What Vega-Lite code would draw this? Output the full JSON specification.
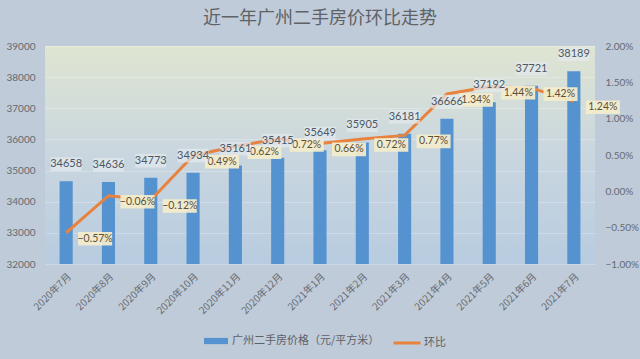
{
  "$schema": "https://vega.github.io/schema/vega-lite/v6.json",
  "width": 550,
  "height": 218,
  "autosize": {"type": "none"},
  "padding": {"left": 45, "top": 46, "right": 45, "bottom": 95},
  "background": "#bfcbd8",
  "view": {
    "stroke": null,
    "fill": {"gradient": "linear", "x1": 0, "y1": 0, "x2": 0, "y2": 1, "stops": [{"offset": 0, "color": "#dfe5d2"}, {"offset": 0.5, "color": "#c9d6df"}, {"offset": 1, "color": "#b8cce0"}]}
  },
  "title": {
    "text": "近一年广州二手房价环比走势",
    "font": "Noto Sans CJK SC",
    "fontSize": 18,
    "fontWeight": "normal",
    "color": "#5f6266",
    "anchor": "middle",
    "offset": 13
  },
  "config": {
    "font": "Lato",
    "axis": {"labelColor": "#666a70", "labelFontSize": 10, "domain": false, "ticks": false, "title": null}
  },
  "data": {
    "values": [
      {"month": "2020年7月", "price": 34658, "pct": -0.0057},
      {"month": "2020年8月", "price": 34636, "pct": -0.0006},
      {"month": "2020年9月", "price": 34773, "pct": -0.0012},
      {"month": "2020年10月", "price": 34934, "pct": 0.0049},
      {"month": "2020年11月", "price": 35161, "pct": 0.0062},
      {"month": "2020年12月", "price": 35415, "pct": 0.0072},
      {"month": "2021年1月", "price": 35649, "pct": 0.0066},
      {"month": "2021年2月", "price": 35905, "pct": 0.0072},
      {"month": "2021年3月", "price": 36181, "pct": 0.0077},
      {"month": "2021年4月", "price": 36666, "pct": 0.0134},
      {"month": "2021年5月", "price": 37192, "pct": 0.0144},
      {"month": "2021年6月", "price": 37721, "pct": 0.0142},
      {"month": "2021年7月", "price": 38189, "pct": 0.0124}
    ]
  },
  "encoding": {
    "x": {
      "field": "month",
      "type": "ordinal",
      "sort": null,
      "scale": {"paddingInner": 0.69, "paddingOuter": 0.345},
      "axis": {"labelAngle": -45, "labelFont": "Noto Sans CJK SC", "labelFontSize": 10, "labelPadding": 7, "labelLimit": 0, "grid": false}
    }
  },
  "layer": [
    {
      "mark": {"type": "bar", "clip": true},
      "encoding": {
        "y": {
          "field": "price",
          "type": "quantitative",
          "scale": {"domain": [32000, 39000], "nice": false, "zero": false},
          "axis": {"orient": "left", "values": [32000, 33000, 34000, 35000, 36000, 37000, 38000, 39000], "format": "d", "labelPadding": 10, "grid": true, "gridColor": "#ffffff", "gridOpacity": 0.25}
        },
        "color": {
          "datum": "广州二手房价格（元/平方米）",
          "type": "nominal",
          "scale": {"range": ["#5592d0"]},
          "legend": {"orient": "none", "legendX": 158, "legendY": 282, "title": null, "symbolType": "M-1,-0.26H1V0.26H-1Z", "symbolSize": 576, "labelFont": "Noto Sans CJK SC", "labelFontSize": 11, "labelColor": "#5d6168", "labelOffset": 3}
        }
      }
    },
    {
      "encoding": {
        "y": {
          "field": "pct",
          "type": "quantitative",
          "scale": {"domain": [-0.01, 0.02], "nice": false, "zero": false},
          "axis": {"orient": "right", "values": [-0.01, -0.005, 0, 0.005, 0.01, 0.015, 0.02], "format": ".2%", "labelPadding": 10, "grid": false}
        }
      },
      "layer": [
        {
          "mark": {"type": "line", "strokeWidth": 3},
          "encoding": {
            "stroke": {
              "datum": "环比",
              "type": "nominal",
              "scale": {"range": ["#e8823f"]},
              "legend": {"orient": "none", "legendX": 347, "legendY": 282, "title": null, "symbolType": "stroke", "symbolSize": 729, "symbolStrokeWidth": 3, "labelFont": "Noto Sans CJK SC", "labelFontSize": 11, "labelColor": "#5d6168", "labelOffset": 2}
            }
          }
        },
        {
          "mark": {"type": "point", "shape": "M-1,-0.4H1V0.4H-1Z", "size": 1156, "filled": true, "fill": "#f4edcc", "opacity": 0.93, "xOffset": 29, "yOffset": 6, "strokeWidth": 0},
          "encoding": {}
        },
        {
          "mark": {"type": "text", "xOffset": 29, "yOffset": 6, "fontSize": 10.5, "color": "#5e4f38"},
          "encoding": {"text": {"field": "pct", "type": "quantitative", "format": ".2%"}}
        }
      ]
    },
    {
      "encoding": {
        "y": {
          "field": "price",
          "type": "quantitative",
          "scale": {"domain": [32000, 39000], "nice": false, "zero": false},
          "axis": null
        }
      },
      "layer": [
        {
          "mark": {"type": "point", "shape": "M-1,-0.44H1V0.44H-1Z", "size": 961, "filled": true, "fill": "#e4eaee", "opacity": 0.7, "yOffset": -17, "strokeWidth": 0},
          "encoding": {}
        },
        {
          "mark": {"type": "text", "yOffset": -17, "fontSize": 11, "color": "#4c5866"},
          "encoding": {"text": {"field": "price", "type": "quantitative", "format": "d"}}
        }
      ]
    }
  ],
  "resolve": {"scale": {"y": "independent"}}
}
